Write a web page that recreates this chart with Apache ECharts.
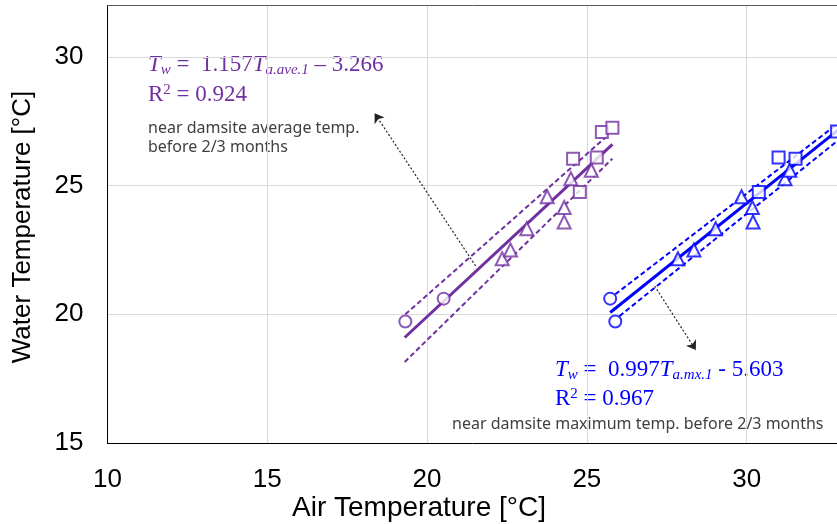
<html>
	<head>
		<meta charset="UTF-8"/>
		<title>Water Temperature vs Air Temperature</title>
		<script type="text/javascript" src="https://cdn.jsdelivr.net/npm/echarts@6/dist/echarts.min.js"></script>
		<style type="text/css">
			body { margin: 0; background: #fff; overflow: hidden; }
			#canvasDiv { width: 837px; height: 524px; }
		</style>
	</head>
	<body>
		<div id="canvasDiv"></div>
		<script type="text/javascript">
			// axis ticks
			var xTicks = [10, 15, 20, 25, 30];
			var yTicks = [15, 20, 25, 30];

			// near damsite average temp. (purple) : [air, water]
			var avgCircle = [[19.32, 19.72], [20.52, 20.61]];
			var avgTriangle = [[22.35, 22.16], [22.61, 22.50], [23.12, 23.33], [23.76, 24.57], [24.29, 24.15], [24.29, 23.59], [24.50, 25.27], [25.14, 25.60]];
			var avgSquare = [[24.57, 26.05], [24.78, 24.75], [25.31, 26.09], [25.47, 27.08], [25.80, 27.25]];
			var avgFit = [[19.30, 19.10], [25.80, 26.60]];
			var avgUpper = [[19.32, 20.00], [25.69, 26.99]];
			var avgLower = [[19.30, 18.15], [25.80, 26.05]];
			var avgArrow = [[21.52, 21.88], [18.36, 27.81]];

			// near damsite maximum temp. (blue)
			var maxCircle = [[25.73, 20.61], [25.89, 19.72]];
			var maxTriangle = [[27.85, 22.16], [28.35, 22.50], [29.03, 23.33], [29.84, 24.57], [30.18, 24.15], [30.20, 23.59], [31.20, 25.27], [31.35, 25.60]];
			var maxSquare = [[30.38, 24.75], [31.00, 26.09], [31.53, 26.05], [32.83, 27.10]];
			var maxFit = [[25.73, 20.07], [33.00, 27.30]];
			var maxUpper = [[25.89, 20.78], [33.00, 27.55]];
			var maxLower = [[26.02, 19.93], [33.00, 26.90]];
			var maxArrow = [[27.12, 21.10], [28.41, 18.61]];

			var PURPLE = "#7030A0", BLUE = "#0000FF";
			var X_MAX = 33, Y_MAX = 32;

			function marks(data, shape, size, color){
				return {
					type: "scatter", data: data, symbol: shape, symbolSize: size, z: 5,
					itemStyle: { color: "#fff", borderColor: color, borderWidth: 2 }
				};
			}
			function fitLine(data, color, dashed){
				return {
					type: "line", data: data, showSymbol: false, z: 3,
					lineStyle: { color: color, width: dashed ? 2 : 3, type: dashed ? [5, 3] : "solid" }
				};
			}

			// rich text styles for the fit equations (italic T, subscripts, superscript)
			function eqRich(color){
				return {
					i: { fontFamily: "Liberation Serif", fontStyle: "italic", fontSize: 23, lineHeight: 25, fill: color, verticalAlign: "top" },
					n: { fontFamily: "Liberation Serif", fontSize: 23, lineHeight: 25, fill: color, verticalAlign: "top" },
					s: { fontFamily: "Liberation Serif", fontStyle: "italic", fontSize: 15, lineHeight: 9, fill: color, verticalAlign: "bottom" },
					p: { fontFamily: "Liberation Serif", fontSize: 15, lineHeight: 15, fill: color, verticalAlign: "top" }
				};
			}

			var chart = echarts.init(document.getElementById("canvasDiv"));
			var option = {
				animation: false,
				// plot runs past the right edge of the picture (cropped figure)
				grid: { left: 107.5, right: -5.5, top: 5.5, bottom: 81, containLabel: false, outerBoundsMode: "none" },
				xAxis: [{
					type: "value", min: xTicks[0], max: X_MAX, interval: 5,
					axisLine: { show: true, lineStyle: { color: "#000", width: 1 } },
					axisTick: { show: false },
					splitLine: { showMaxLine: false, lineStyle: { color: "#d9d9d9", width: 1 } },
					axisLabel: {
						fontFamily: "Liberation Sans", fontSize: 26, color: "#000", margin: 24,
						formatter: function(v){ return xTicks.indexOf(v) >= 0 ? String(v) : ""; }
					}
				}, {
					// top frame line only
					type: "value", position: "top", min: xTicks[0], max: X_MAX,
					axisLine: { show: true, onZero: false, lineStyle: { color: "#595959", width: 1 } },
					axisTick: { show: false }, axisLabel: { show: false }, splitLine: { show: false }
				}],
				yAxis: {
					type: "value", min: yTicks[0], max: Y_MAX, interval: 5,
					axisLine: { show: true, lineStyle: { color: "#000", width: 1 } },
					axisTick: { show: false },
					splitLine: { showMaxLine: false, lineStyle: { color: "#d9d9d9", width: 1 } },
					axisLabel: {
						fontFamily: "Liberation Sans", fontSize: 26, color: "#000", margin: 24,
						formatter: function(v){ return yTicks.indexOf(v) >= 0 ? String(v) : ""; }
					}
				},
				series: [
					fitLine(avgUpper, PURPLE, true),
					fitLine(avgLower, PURPLE, true),
					fitLine(maxUpper, BLUE, true),
					fitLine(maxLower, BLUE, true),
					fitLine(maxFit, BLUE, false),
					{
						type: "line", data: avgFit, showSymbol: false, z: 3,
						lineStyle: { color: PURPLE, width: 3 },
						markLine: {
							silent: true, symbol: ["none", "arrow"], symbolSize: 9,
							label: { show: false },
							lineStyle: { color: "#222", width: 1.2, type: [2, 2] },
							data: [
								[{ coord: avgArrow[0] }, { coord: avgArrow[1] }],
								[{ coord: maxArrow[0] }, { coord: maxArrow[1] }]
							]
						}
					},
					marks(avgCircle, "circle", 12, PURPLE),
					marks(avgTriangle, "triangle", 13, PURPLE),
					marks(avgSquare, "rect", 12, PURPLE),
					marks(maxCircle, "circle", 12, BLUE),
					marks(maxTriangle, "triangle", 13, BLUE),
					marks(maxSquare, "rect", 12, BLUE)
				],
				graphic: [
					{
						type: "text", left: 148, top: 53,
						style: { text: "{i|T}{s|w}{n| =  1.157}{i|T}{s|a.ave.1}{n| – 3.266}", rich: eqRich(PURPLE) }
					},
					{
						type: "text", left: 148, top: 83,
						style: { text: "{n|R}{p|2}{n| = 0.924}", rich: eqRich(PURPLE) }
					},
					{
						type: "text", left: 148, top: 119,
						style: { text: "near damsite average temp.\nbefore 2/3 months", font: "16px 'Noto Sans'", fill: "#404040", lineHeight: 19 }
					},
					{
						type: "text", left: 555, top: 358,
						style: { text: "{i|T}{s|w}{n| =  0.997}{i|T}{s|a.mx.1}{n| - 5.603}", rich: eqRich(BLUE) }
					},
					{
						type: "text", left: 555, top: 387,
						style: { text: "{n|R}{p|2}{n| = 0.967}", rich: eqRich(BLUE) }
					},
					{
						type: "text", left: 452, top: 416,
						style: { text: "near damsite maximum temp. before 2/3 months", font: "16px 'Noto Sans'", fill: "#404040" }
					},
					{
						type: "text", x: 419, y: 494,
						style: { text: "Air Temperature [°C]", font: "28px 'Liberation Sans'", fill: "#000", textAlign: "center" }
					},
					{
						type: "text", x: 23, y: 227, rotation: Math.PI / 2,
						style: { text: "Water Temperature [°C]", font: "26px 'Liberation Sans'", fill: "#000", textAlign: "center", textVerticalAlign: "middle" }
					}
				]
			};
			chart.setOption(option);
		</script>
	</body>
</html>
